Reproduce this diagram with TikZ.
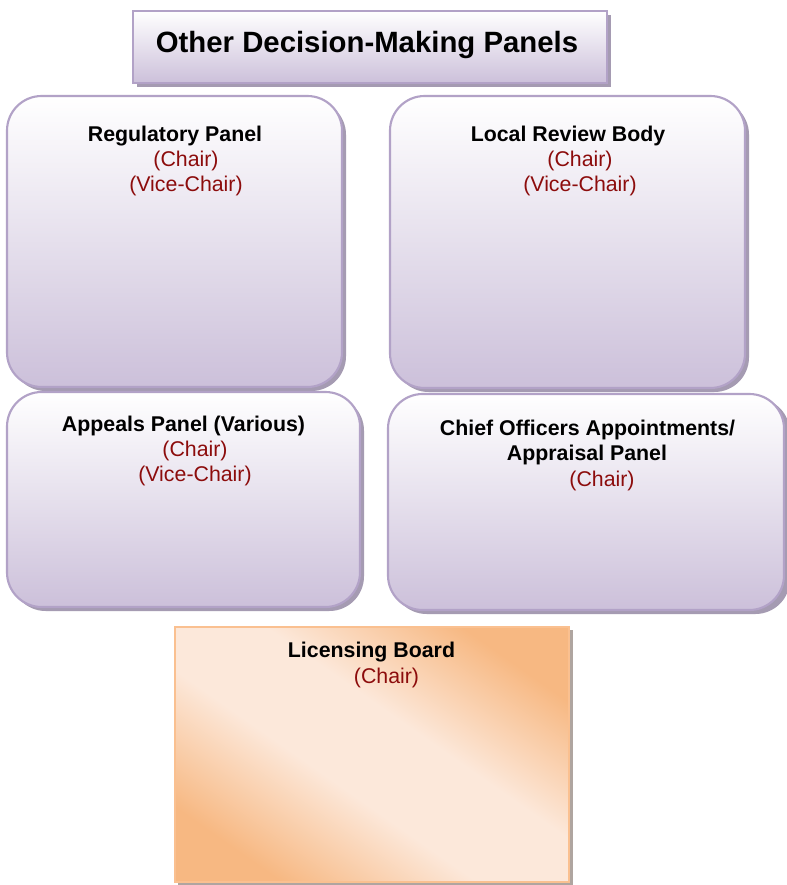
\documentclass[tikz,border=0pt]{standalone}
\usepackage{fontspec}
\setmainfont{Liberation Sans}
\definecolor{pborder}{RGB}{178,162,199}
\definecolor{pbottom}{RGB}{204,192,218}
\definecolor{pshadow}{RGB}{165,155,178}
\definecolor{chaircol}{RGB}{140,12,12}
\definecolor{oborder}{RGB}{250,192,144}
\definecolor{odark}{RGB}{247,184,130}
\definecolor{olight}{RGB}{252,232,218}
\definecolor{oshadow}{RGB}{175,165,160}
\pgfdeclarehorizontalshading{lbshade}{100bp}{color(0bp)=(odark); color(25bp)=(odark); color(43bp)=(olight); color(57bp)=(olight); color(75bp)=(odark); color(100bp)=(odark)}
\tikzset{
  panelbox/.style={draw=pborder, line width=1.6pt, top color=white, bottom color=pbottom, rounded corners=26pt},
  titlebox/.style={draw=pborder, line width=1.6pt, top color=white, bottom color=pbottom},
  shadowbox/.style={fill=pshadow, draw=none},
  heading/.style={anchor=base, font=\fontsize{16pt}{18.4pt}\selectfont\bfseries, inner sep=0pt},
  chair/.style={anchor=base, font=\fontsize{16pt}{18.4pt}\selectfont, text=chaircol, inner sep=0pt},
}
\begin{document}
\begin{tikzpicture}[x=0.75pt,y=-0.75pt]
\useasboundingbox[fill=white] (0,0) rectangle (786,885);
% title
\fill[shadowbox] (137,15) rectangle (611,87);
\shade[titlebox] (133,11) rectangle (607,83);
\node[anchor=base, font=\fontsize{22pt}{25pt}\selectfont\bfseries, inner sep=0pt] (title) at (367,52) {Other Decision-Making Panels};
% Regulatory Panel
\fill[shadowbox, rounded corners=26pt] (11,100) rectangle (346,391);
\shade[panelbox] (7,96) rectangle (342,387);
\node[heading] (reg) at (175,141) {Regulatory Panel};
\node[chair] (regc) at (186,166) {(Chair)};
\node[chair] (regv) at (186,191) {(Vice-Chair)};
% Local Review Body
\fill[shadowbox, rounded corners=26pt] (394,100) rectangle (749,392);
\shade[panelbox] (390,96) rectangle (745,388);
\node[heading] (lrb) at (568,141) {Local Review Body};
\node[chair] (lrbc) at (580,166) {(Chair)};
\node[chair] (lrbv) at (580,191) {(Vice-Chair)};
% Appeals Panel
\fill[shadowbox, rounded corners=26pt] (11,396) rectangle (364,611);
\shade[panelbox] (7,392) rectangle (360,607);
\node[heading] (app) at (183.5,431) {Appeals Panel (Various)};
\node[chair] (appc) at (195,456) {(Chair)};
\node[chair] (appv) at (195,481) {(Vice-Chair)};
% Chief Officers
\fill[shadowbox, rounded corners=26pt] (392,398) rectangle (790,614);
\shade[panelbox] (388,394) rectangle (784,610);
\node[heading] (coa) at (587.5,435) {Chief Officers Appointments/};
\node[heading] (coa2) at (587,460.5) {Appraisal Panel};
\node[chair] (coac) at (602,486) {(Chair)};
% Licensing Board
\fill[fill=oshadow] (178,630) rectangle (573,885);
\shade[shading=lbshade, shading angle=55] (175,627) rectangle (569,882);
\draw[oborder, line width=1.4pt] (175,627) rectangle (569,882);
\node[heading] (lb) at (371.5,657.5) {Licensing Board};
\node[chair] (lbc) at (386.5,683) {(Chair)};
\end{tikzpicture}
\end{document}
